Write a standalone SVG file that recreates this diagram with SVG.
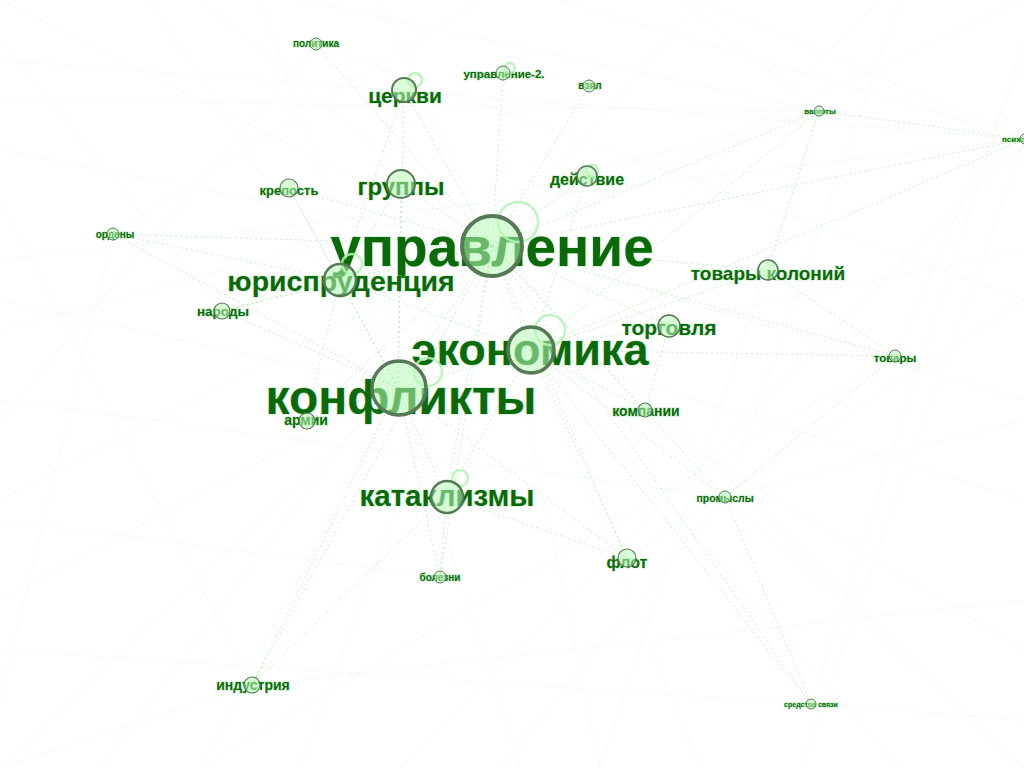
<svg xmlns="http://www.w3.org/2000/svg" width="1024" height="768" viewBox="0 0 1024 768">
<style>
.bg{fill:#ffffff}
.e{stroke:#8fe08f;stroke-width:1;stroke-dasharray:2 3;stroke-opacity:0.5;fill:none}
.f{stroke:#a6eca6;stroke-width:1;stroke-dasharray:1 3;stroke-opacity:0.45;fill:none}
.t{font-family:"Liberation Sans",Arial,sans-serif;font-weight:bold;fill:#0a6a0a;text-anchor:middle;stroke:#9be39b;stroke-opacity:0.45;stroke-width:1.5;paint-order:stroke}
.c{fill:#b8f8b8;fill-opacity:0.55;stroke:#557a55}
.h{fill:none;stroke:#b4f2b4;stroke-width:2.5;stroke-opacity:0.85}
</style>
<rect class="bg" x="0" y="0" width="1024" height="768"/>
<g id="connectors">
<line class="e" x1="492" y1="246" x2="531" y2="350"/>
<line class="e" x1="492" y1="246" x2="398" y2="388"/>
<line class="e" x1="492" y1="246" x2="340" y2="280"/>
<line class="e" x1="492" y1="246" x2="404" y2="90"/>
<line class="e" x1="492" y1="246" x2="401" y2="184"/>
<line class="e" x1="492" y1="246" x2="587" y2="176"/>
<line class="e" x1="492" y1="246" x2="289" y2="188"/>
<line class="e" x1="492" y1="246" x2="503" y2="73"/>
<line class="e" x1="492" y1="246" x2="589" y2="86"/>
<line class="e" x1="492" y1="246" x2="768" y2="270"/>
<line class="e" x1="492" y1="246" x2="669" y2="326"/>
<line class="e" x1="492" y1="246" x2="645" y2="410"/>
<line class="e" x1="492" y1="246" x2="446" y2="497"/>
<line class="e" x1="492" y1="246" x2="819" y2="111"/>
<line class="e" x1="492" y1="246" x2="1025" y2="139"/>
<line class="e" x1="492" y1="246" x2="895" y2="356"/>
<line class="e" x1="492" y1="246" x2="222" y2="311"/>
<line class="e" x1="492" y1="246" x2="113" y2="234"/>
<line class="e" x1="492" y1="246" x2="316" y2="44"/>
<line class="e" x1="492" y1="246" x2="627" y2="558"/>
<line class="e" x1="492" y1="246" x2="252" y2="685"/>
<line class="e" x1="492" y1="246" x2="811" y2="704"/>
<line class="e" x1="492" y1="246" x2="725" y2="497"/>
<line class="e" x1="492" y1="246" x2="440" y2="577"/>
<line class="e" x1="492" y1="246" x2="306" y2="419"/>
<line class="e" x1="531" y1="350" x2="398" y2="388"/>
<line class="e" x1="531" y1="350" x2="340" y2="280"/>
<line class="e" x1="531" y1="350" x2="669" y2="326"/>
<line class="e" x1="531" y1="350" x2="768" y2="270"/>
<line class="e" x1="531" y1="350" x2="645" y2="410"/>
<line class="e" x1="531" y1="350" x2="725" y2="497"/>
<line class="e" x1="531" y1="350" x2="446" y2="497"/>
<line class="e" x1="531" y1="350" x2="627" y2="558"/>
<line class="e" x1="531" y1="350" x2="895" y2="356"/>
<line class="e" x1="531" y1="350" x2="819" y2="111"/>
<line class="e" x1="531" y1="350" x2="1025" y2="139"/>
<line class="e" x1="531" y1="350" x2="811" y2="704"/>
<line class="e" x1="531" y1="350" x2="587" y2="176"/>
<line class="e" x1="398" y1="388" x2="340" y2="280"/>
<line class="e" x1="398" y1="388" x2="306" y2="419"/>
<line class="e" x1="398" y1="388" x2="222" y2="311"/>
<line class="e" x1="398" y1="388" x2="446" y2="497"/>
<line class="e" x1="398" y1="388" x2="440" y2="577"/>
<line class="e" x1="398" y1="388" x2="252" y2="685"/>
<line class="e" x1="398" y1="388" x2="627" y2="558"/>
<line class="e" x1="398" y1="388" x2="401" y2="184"/>
<line class="e" x1="398" y1="388" x2="404" y2="90"/>
<line class="e" x1="398" y1="388" x2="289" y2="188"/>
<line class="e" x1="398" y1="388" x2="113" y2="234"/>
<line class="e" x1="340" y1="280" x2="401" y2="184"/>
<line class="e" x1="340" y1="280" x2="404" y2="90"/>
<line class="e" x1="340" y1="280" x2="222" y2="311"/>
<line class="e" x1="340" y1="280" x2="289" y2="188"/>
<line class="e" x1="340" y1="280" x2="113" y2="234"/>
<line class="e" x1="340" y1="280" x2="306" y2="419"/>
<line class="e" x1="446" y1="497" x2="440" y2="577"/>
<line class="e" x1="446" y1="497" x2="627" y2="558"/>
<line class="e" x1="446" y1="497" x2="252" y2="685"/>
<line class="e" x1="725" y1="497" x2="895" y2="356"/>
<line class="e" x1="725" y1="497" x2="811" y2="704"/>
<line class="e" x1="768" y1="270" x2="895" y2="356"/>
<line class="e" x1="768" y1="270" x2="819" y2="111"/>
<line class="e" x1="669" y1="326" x2="645" y2="410"/>
<line class="e" x1="819" y1="111" x2="1025" y2="139"/>
<line class="f" x1="492" y1="246" x2="0" y2="0"/>
<line class="f" x1="492" y1="246" x2="1024" y2="0"/>
<line class="f" x1="492" y1="246" x2="200" y2="0"/>
<line class="f" x1="492" y1="246" x2="0" y2="500"/>
<line class="f" x1="492" y1="246" x2="1024" y2="768"/>
<line class="f" x1="492" y1="246" x2="600" y2="768"/>
<line class="f" x1="492" y1="246" x2="100" y2="768"/>
<line class="f" x1="492" y1="246" x2="700" y2="0"/>
<line class="f" x1="492" y1="246" x2="380" y2="0"/>
<line class="f" x1="492" y1="246" x2="0" y2="150"/>
<line class="f" x1="492" y1="246" x2="300" y2="768"/>
<line class="f" x1="492" y1="246" x2="1024" y2="400"/>
<line class="f" x1="398" y1="388" x2="0" y2="768"/>
<line class="f" x1="398" y1="388" x2="0" y2="600"/>
<line class="f" x1="398" y1="388" x2="150" y2="0"/>
<line class="f" x1="398" y1="388" x2="0" y2="300"/>
<line class="f" x1="398" y1="388" x2="200" y2="768"/>
<line class="f" x1="398" y1="388" x2="520" y2="768"/>
<line class="f" x1="398" y1="388" x2="260" y2="0"/>
<line class="f" x1="531" y1="350" x2="1024" y2="500"/>
<line class="f" x1="531" y1="350" x2="1024" y2="650"/>
<line class="f" x1="531" y1="350" x2="900" y2="768"/>
<line class="f" x1="531" y1="350" x2="1024" y2="250"/>
<line class="f" x1="531" y1="350" x2="700" y2="768"/>
<line class="f" x1="531" y1="350" x2="880" y2="0"/>
<line class="f" x1="819" y1="111" x2="0" y2="100"/>
<line class="f" x1="819" y1="111" x2="300" y2="0"/>
<line class="f" x1="819" y1="111" x2="600" y2="768"/>
<line class="f" x1="819" y1="111" x2="0" y2="330"/>
<line class="f" x1="819" y1="111" x2="680" y2="0"/>
<line class="f" x1="1025" y1="139" x2="700" y2="0"/>
<line class="f" x1="1025" y1="139" x2="0" y2="60"/>
<line class="f" x1="1025" y1="139" x2="800" y2="768"/>
<line class="f" x1="1025" y1="139" x2="400" y2="768"/>
<line class="f" x1="1025" y1="139" x2="0" y2="260"/>
<line class="f" x1="1025" y1="139" x2="560" y2="0"/>
<line class="f" x1="725" y1="497" x2="1024" y2="420"/>
<line class="f" x1="725" y1="497" x2="500" y2="768"/>
<line class="f" x1="725" y1="497" x2="0" y2="400"/>
<line class="f" x1="725" y1="497" x2="1024" y2="768"/>
<line class="f" x1="725" y1="497" x2="900" y2="0"/>
<line class="f" x1="252" y1="685" x2="0" y2="200"/>
<line class="f" x1="252" y1="685" x2="1024" y2="600"/>
<line class="f" x1="252" y1="685" x2="0" y2="768"/>
<line class="f" x1="811" y1="704" x2="0" y2="650"/>
<line class="f" x1="811" y1="704" x2="1024" y2="40"/>
<line class="f" x1="811" y1="704" x2="1024" y2="720"/>
<line class="f" x1="113" y1="234" x2="0" y2="700"/>
<line class="f" x1="113" y1="234" x2="480" y2="0"/>
<line class="f" x1="316" y1="44" x2="1024" y2="300"/>
<line class="f" x1="316" y1="44" x2="0" y2="420"/>
<line class="f" x1="222" y1="311" x2="0" y2="40"/>
<line class="f" x1="440" y1="577" x2="0" y2="520"/>
<line class="f" x1="627" y1="558" x2="1024" y2="300"/>
<line class="f" x1="895" y1="356" x2="1024" y2="60"/>
<line class="f" x1="895" y1="356" x2="200" y2="768"/>
</g>
<g id="n-upravlenie"><text class="t" x="492" y="266" font-size="55">управление</text><circle class="h" cx="518" cy="222" r="20"/><circle class="c" cx="492" cy="246" r="30" stroke-width="4"/></g>
<g id="n-ekonomika"><text class="t" x="530" y="365" font-size="45">экономика</text><circle class="h" cx="550" cy="330" r="15"/><circle class="c" cx="531" cy="350" r="23" stroke-width="3.5"/></g>
<g id="n-konflikty"><text class="t" x="401" y="414" font-size="48">конфликты</text><circle class="h" cx="428" cy="372" r="14"/><circle class="c" cx="399" cy="388" r="27" stroke-width="3.5"/></g>
<g id="n-yurisprudentsiya"><text class="t" x="341" y="291" font-size="28.5">юриспруденция</text><circle class="h" cx="352" cy="264" r="10"/><circle class="c" cx="340" cy="280" r="16" stroke-width="2.5"/></g>
<g id="n-tserkvi"><text class="t" x="405" y="103" font-size="21">церкви</text><circle class="h" cx="415" cy="80" r="7"/><circle class="c" cx="404" cy="90" r="12" stroke-width="2"/></g>
<g id="n-gruppy"><text class="t" x="401" y="195" font-size="24">группы</text><circle class="c" cx="401" cy="184" r="14" stroke-width="2"/></g>
<g id="n-deystvie"><text class="t" x="587" y="185" font-size="16">действие</text><circle class="h" cx="592" cy="171" r="6"/><circle class="c" cx="587" cy="176" r="10" stroke-width="1.5"/></g>
<g id="n-krepost"><text class="t" x="289" y="195" font-size="13">крепость</text><circle class="c" cx="289" cy="188" r="9" stroke-width="1.2"/></g>
<g id="n-ordeny"><text class="t" x="115" y="238" font-size="10">ордены</text><circle class="c" cx="113" cy="234" r="6" stroke-width="1"/></g>
<g id="n-narody"><text class="t" x="223" y="316" font-size="13.5">народы</text><circle class="c" cx="222" cy="311" r="8" stroke-width="1.2"/></g>
<g id="n-armii"><text class="t" x="306" y="425" font-size="14">армии</text><circle class="c" cx="307" cy="421" r="8" stroke-width="1.2"/></g>
<g id="n-politika"><text class="t" x="316" y="47" font-size="10">политика</text><circle class="c" cx="316" cy="44" r="6" stroke-width="1"/></g>
<g id="n-upravlenie-2"><text class="t" x="504" y="78" font-size="11.5">управление-2.</text><circle class="h" cx="510" cy="68" r="5"/><circle class="c" cx="503" cy="73" r="7" stroke-width="1"/></g>
<g id="n-vzyal"><text class="t" x="590" y="89" font-size="10">взял</text><circle class="c" cx="589" cy="86" r="6" stroke-width="1"/></g>
<g id="n-valyuty"><text class="t" x="820" y="114" font-size="8">валюты</text><circle class="c" cx="819" cy="111" r="5" stroke-width="1"/></g>
<g id="n-psikhologiya"><text class="t" x="1025" y="142" font-size="8">психология</text><circle class="c" cx="1025" cy="139" r="5" stroke-width="1"/></g>
<g id="n-tovary-koloniy"><text class="t" x="768" y="280" font-size="19">товары колоний</text><circle class="c" cx="768" cy="270" r="10" stroke-width="1.5"/></g>
<g id="n-torgovlya"><text class="t" x="669" y="335" font-size="21">торговля</text><circle class="c" cx="669" cy="326" r="11" stroke-width="1.5"/></g>
<g id="n-tovary"><text class="t" x="895" y="362" font-size="11.5">товары</text><circle class="c" cx="895" cy="356" r="6" stroke-width="1"/></g>
<g id="n-kompanii"><text class="t" x="646" y="416" font-size="14">компании</text><circle class="c" cx="645" cy="410" r="7" stroke-width="1.2"/></g>
<g id="n-promysly"><text class="t" x="725" y="502" font-size="10.5">промыслы</text><circle class="c" cx="725" cy="497" r="6" stroke-width="1"/></g>
<g id="n-kataklizmy"><text class="t" x="447" y="506" font-size="29.5">катаклизмы</text><circle class="h" cx="460" cy="478" r="8"/><circle class="c" cx="447" cy="497" r="16" stroke-width="2.5"/></g>
<g id="n-flot"><text class="t" x="627" y="568" font-size="16">флот</text><circle class="c" cx="627" cy="558" r="9" stroke-width="1.2"/></g>
<g id="n-bolezni"><text class="t" x="440" y="581" font-size="10">болезни</text><circle class="c" cx="440" cy="577" r="6" stroke-width="1"/></g>
<g id="n-industriya"><text class="t" x="253" y="690" font-size="14">индустрия</text><circle class="c" cx="252" cy="685" r="8" stroke-width="1.2"/></g>
<g id="n-sredstva-svyazi"><text class="t" x="811" y="707" font-size="7">средства связи</text><circle class="c" cx="811" cy="704" r="5" stroke-width="1"/></g>
</svg>
